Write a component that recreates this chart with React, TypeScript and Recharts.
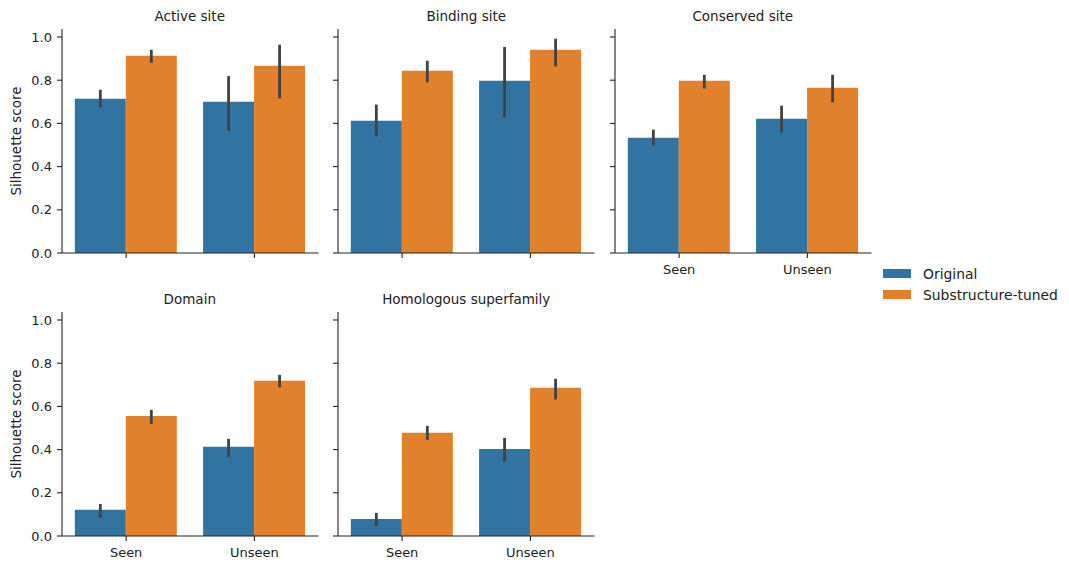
import { BarChart, Bar, XAxis, YAxis, ErrorBar } from "recharts";

// facet panels, in reading order
const panelTitles = ["Active site", "Binding site", "Conserved site", "Domain", "Homologous superfamily"];
const categories = ["Seen", "Unseen"];
const seriesNames = ["Original", "Substructure-tuned"];

// bar heights and 95% CI bounds, [Seen, Unseen] per panel
const originalMean = [[0.714, 0.700], [0.612, 0.798], [0.534, 0.622], [0.121, 0.413], [0.079, 0.403]];
const originalLow = [[0.674, 0.566], [0.540, 0.628], [0.498, 0.558], [0.085, 0.366], [0.046, 0.343]];
const originalHigh = [[0.756, 0.819], [0.687, 0.954], [0.571, 0.682], [0.148, 0.450], [0.107, 0.454]];
const tunedMean = [[0.913, 0.867], [0.844, 0.941], [0.798, 0.765], [0.556, 0.719], [0.478, 0.686]];
const tunedLow = [[0.880, 0.716], [0.790, 0.864], [0.762, 0.697], [0.519, 0.688], [0.445, 0.632]];
const tunedHigh = [[0.941, 0.964], [0.890, 0.992], [0.825, 0.825], [0.584, 0.746], [0.510, 0.728]];

const yTicks = [0, 0.2, 0.4, 0.6, 0.8, 1.0];

const BLUE = "#3274a1";
const ORANGE = "#e1812c";
const ERR = "#424242";
const INK = "#222";
const FONT = "DejaVu Sans";

const PLOT_W = 256.5;
const PLOT_H = 224;
const Y_W = 60;
const M_TOP = 10;
const M_RIGHT = 10;
const X_H = 40;

// plot-area left/top for each panel
const panelPos = [
  { x: 61.5, y: 29.3 },
  { x: 338, y: 29.3 },
  { x: 614.5, y: 29.3 },
  { x: 61.5, y: 312.3 },
  { x: 338, y: 312.3 },
];
const showXLabels = [false, false, true, true, true];
const showYLabels = [true, false, false, true, false];

function panelData(p: number) {
  return categories.map((c, i) => ({
    name: c,
    original: originalMean[p][i],
    originalErr: [originalMean[p][i] - originalLow[p][i], originalHigh[p][i] - originalMean[p][i]],
    tuned: tunedMean[p][i],
    tunedErr: [tunedMean[p][i] - tunedLow[p][i], tunedHigh[p][i] - tunedMean[p][i]],
  }));
}

function Panel({ p }: { p: number }) {
  const pos = panelPos[p];
  const tickStyle = { fontSize: 13, fill: INK, fontFamily: FONT };
  return (
    <>
      <div
        style={{
          position: "absolute",
          left: pos.x,
          top: pos.y - 21,
          width: PLOT_W,
          textAlign: "center",
          fontFamily: FONT,
          fontSize: 13.5,
          color: INK,
          lineHeight: "16px",
        }}
      >
        {panelTitles[p]}
      </div>
      {showYLabels[p] && (
        <div
          style={{
            position: "absolute",
            left: 15.5 - 100,
            top: pos.y + PLOT_H / 2 - 8,
            width: 200,
            height: 16,
            lineHeight: "16px",
            textAlign: "center",
            fontFamily: FONT,
            fontSize: 13.5,
            color: INK,
            transform: "rotate(-90deg)",
          }}
        >
          Silhouette score
        </div>
      )}
      <div style={{ position: "absolute", left: pos.x - Y_W, top: pos.y - M_TOP }}>
        <BarChart
          width={Y_W + PLOT_W + M_RIGHT}
          height={M_TOP + PLOT_H + X_H}
          data={panelData(p)}
          margin={{ top: M_TOP, right: M_RIGHT, bottom: 0, left: 0 }}
          barCategoryGap="10%"
          barGap={0}
        >
          <XAxis
            dataKey="name"
            height={X_H}
            tickSize={5}
            tickMargin={7}
            axisLine={{ stroke: INK, strokeWidth: 1.1 }}
            tickLine={{ stroke: INK, strokeWidth: 1.1 }}
            tick={tickStyle}
            tickFormatter={(v) => (showXLabels[p] ? v : "")}
          />
          <YAxis
            type="number"
            width={Y_W}
            domain={[0, 1.037]}
            allowDataOverflow
            ticks={yTicks}
            tickSize={5}
            tickMargin={5}
            axisLine={{ stroke: INK, strokeWidth: 1.1 }}
            tickLine={{ stroke: INK, strokeWidth: 1.1 }}
            tick={tickStyle}
            tickFormatter={(v: number) => (showYLabels[p] ? v.toFixed(1) : "")}
          />
          <Bar dataKey="original" fill={BLUE} isAnimationActive={false}>
            <ErrorBar dataKey="originalErr" width={0} stroke={ERR} strokeWidth={2.8} direction="y" />
          </Bar>
          <Bar dataKey="tuned" fill={ORANGE} isAnimationActive={false}>
            <ErrorBar dataKey="tunedErr" width={0} stroke={ERR} strokeWidth={2.8} direction="y" />
          </Bar>
        </BarChart>
      </div>
    </>
  );
}

function LegendBox() {
  const colors = [BLUE, ORANGE];
  return (
    <div style={{ position: "absolute", left: 883, top: 263 }}>
      {seriesNames.map((n, i) => (
        <div key={n} style={{ display: "flex", alignItems: "center", height: 21 }}>
          <div style={{ width: 28, height: 8.5, background: colors[i] }} />
          <span style={{ marginLeft: 12, fontFamily: FONT, fontSize: 13.9, color: INK }}>{n}</span>
        </div>
      ))}
    </div>
  );
}

export default function App() {
  return (
    <div style={{ position: "absolute", left: 0, top: 0, width: 1069, height: 570, background: "#fff" }}>
      {panelTitles.map((_, p) => (
        <Panel key={p} p={p} />
      ))}
      <LegendBox />
    </div>
  );
}
